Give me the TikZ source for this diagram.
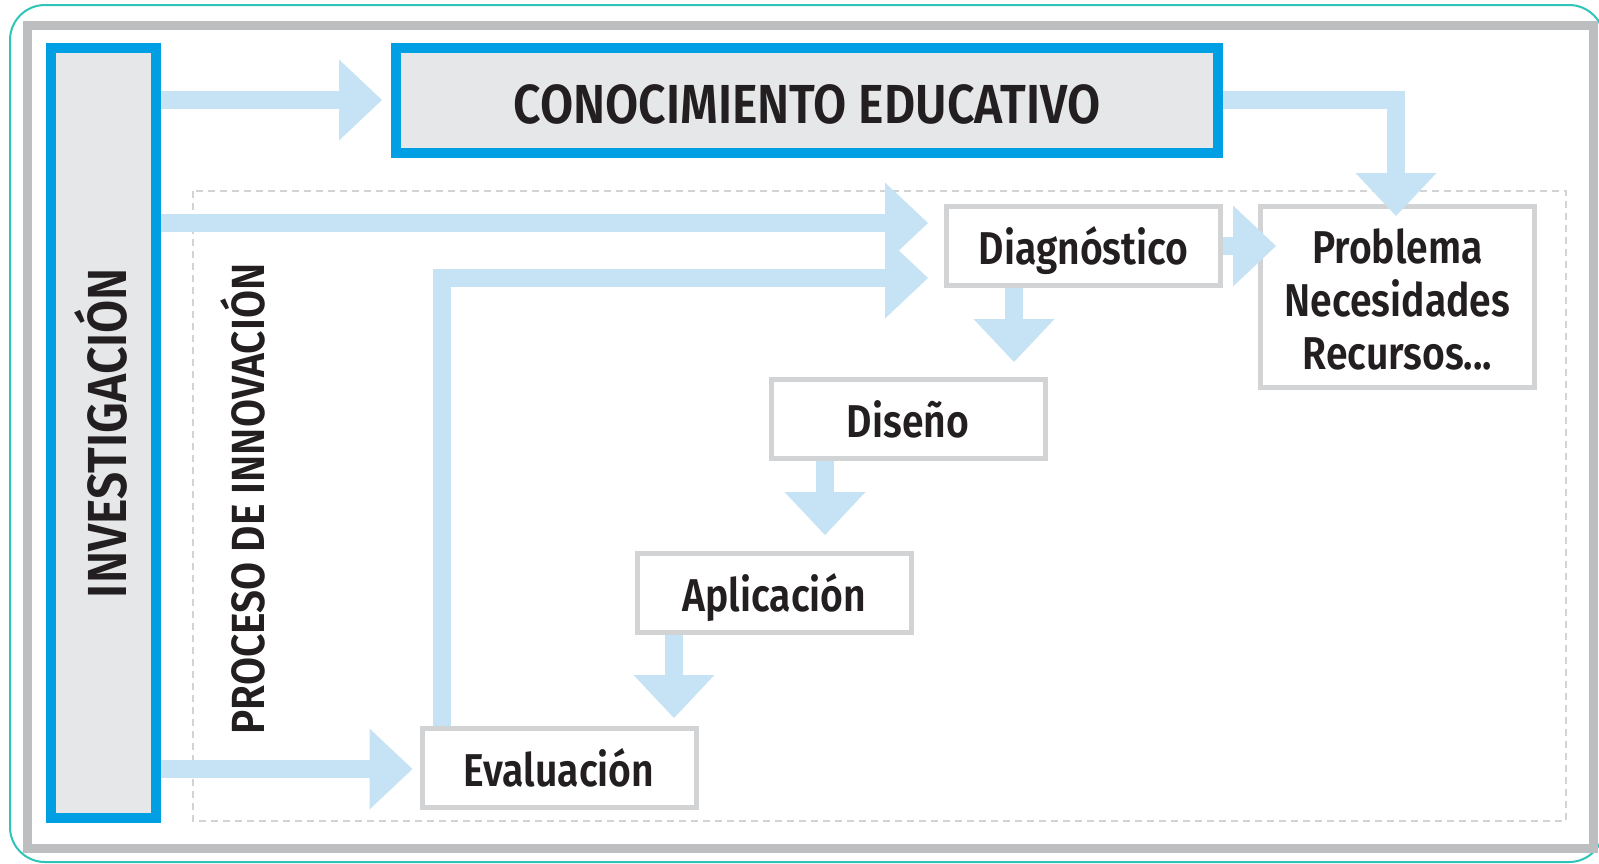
\documentclass[tikz,border=0pt]{standalone}
\usepackage{fontspec}
\setmainfont{Fira Sans SemiBold}[FakeStretch=0.85]
\newfontfamily\mayus{Fira Sans SemiBold}[FakeStretch=0.875]
\usetikzlibrary{arrows.meta}
\definecolor{azul}{HTML}{009FE3}
\definecolor{celeste}{HTML}{C6E2F5}
\definecolor{grisfondo}{HTML}{E6E7E8}
\definecolor{grisborde}{HTML}{D1D3D4}
\definecolor{grismarco}{HTML}{BCBEC0}
\definecolor{turquesa}{HTML}{2EC4BA}
\definecolor{tinta}{HTML}{231F20}

\begin{document}
\begin{tikzpicture}[x=1pt, y=-1pt,
    caja/.style = {draw=grisborde, line width=5pt, fill=white, inner sep=0pt,
      minimum width=274pt, minimum height=79pt, align=center, text=tinta,
      font=\fontsize{46}{53}\selectfont},
    uno/.style = {text height=36.8pt, text depth=0pt},
    marco/.style = {draw=azul, line width=10pt, fill=grisfondo, inner sep=0pt,
      text=tinta, font=\mayus\fontsize{55}{55}\selectfont},
    flecha/.style = {draw=celeste, line width=18pt, line join=miter,
      -{Triangle[length=43pt, width=81pt, line width=0pt]}}
  ]
    \path[use as bounding box] (0,0) rectangle (1599,863);
    % frames
    \draw[turquesa, line width=2pt, rounded corners=35pt]
      (10,5) rectangle (1604,862);
    \draw[grismarco, line width=9pt]
      (27.5,25) rectangle (1593,848);
    \draw[grisborde, line width=2pt, dash pattern=on 7pt off 5pt]
      (193,191) rectangle (1566,821);
    % boxes
    \node[marco, minimum width=105pt, minimum height=770pt] (inv) at (103.5,433) {};
    \node[marco, minimum width=822pt, minimum height=105pt,
      text height=45pt, text depth=0pt] (con) at (807,100.5)
      {CONOCIMIENTO EDUCATIVO};
    \node[caja, uno] (diag) at (1083.5,246) {Diagnóstico};
    \node[caja, minimum height=181pt] (prob) at (1397.5,297)
      {\rule{0pt}{0.86em}Problema\\Necesidades\\Recursos...};
    \node[caja, uno] (dis) at (908,419) {Diseño};
    \node[caja, uno] (apl) at (774.5,593) {Aplicación};
    \node[caja, uno] (eva) at (559,768) {Evaluación};
    % labels
    \path[text=tinta]
      (126,433) node[rotate=90, anchor=base, font=\mayus\fontsize{55}{55}\selectfont]
        (invtxt) {INVESTIGACIÓN}
      (264,499) node[rotate=90, anchor=base, font=\mayus\fontsize{46.5}{46.5}\selectfont]
        (innov) {PROCESO DE INNOVACIÓN}
    ;
    % arrows
    \draw[flecha, shorten >=9pt] (inv.east |- 0,100) -- (con.west |- 0,100);
    \draw[flecha, shorten >=16pt] (inv.east |- 0,223) -- (diag.west |- 0,223);
    \draw[flecha, shorten >=16pt] (eva.north -| 442,0) -- (442,278) -- (diag.west |- 0,278);
    \draw[flecha, shorten >=7pt] (inv.east |- 0,769) -- (eva.west |- 0,769);
    \draw[flecha, shorten >=-18pt] (diag.east |- 0,246) -- (prob.west |- 0,246);
    \draw[flecha, shorten >=-12pt] (con.east |- 0,100) -- (1396,100) -- (prob.north -| 1396,0);
    \draw[flecha, shorten >=15pt] (diag.south -| 1014,0) -- (dis.north -| 1014,0);
    \draw[flecha, shorten >=16pt] (dis.south -| 825,0) -- (apl.north -| 825,0);
    \draw[flecha, shorten >=8pt] (apl.south -| 674,0) -- (eva.north -| 674,0);
\end{tikzpicture}
\end{document}
